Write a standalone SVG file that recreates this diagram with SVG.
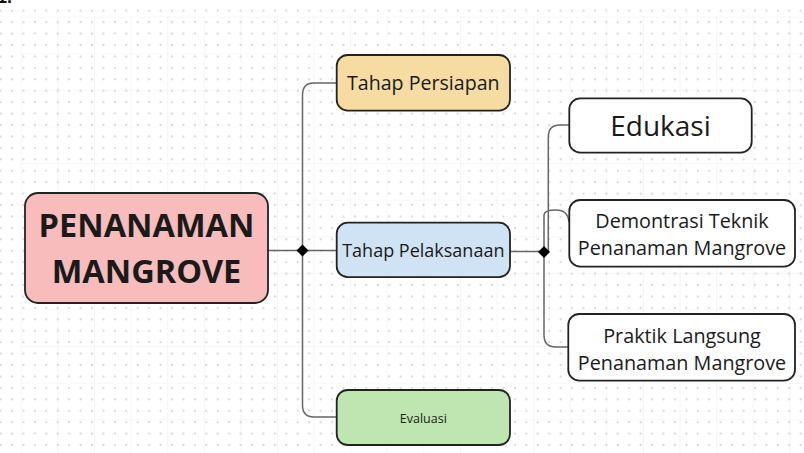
<svg xmlns="http://www.w3.org/2000/svg" width="804" height="453" viewBox="0 0 804 453">
<defs>
<pattern id="dots" x="6.3" y="5" width="11.43" height="11.43" patternUnits="userSpaceOnUse">
<circle cx="5.7" cy="5.7" r="1.15" fill="#d9d9e5"/>
</pattern>
<pattern id="grid" x="20.8" y="16.7" width="36.6" height="36.6" patternUnits="userSpaceOnUse">
<path d="M0,0 V36.6 M0,0 H36.6" fill="none" stroke="#eef1ee" stroke-width="1.2"/>
</pattern>
</defs>
<style>
.box{stroke:#222;stroke-width:1.8}
.t{font-family:"Open Sans","Noto Sans","Liberation Sans",sans-serif;fill:#1a1a1a;text-anchor:middle}
.c{fill:none;stroke:#666;stroke-width:1.5}
</style>
<rect width="804" height="453" fill="#fff"/>
<rect x="20" y="16" width="784" height="437" fill="url(#grid)"/>
<rect x="0" y="5" width="804" height="448" fill="url(#dots)"/>
<text x="-3" y="3" font-family="Liberation Sans, sans-serif" font-weight="bold" font-size="18" fill="#111">1.</text>
<g id="connectors">
<path class="c" d="M268,250.5 H337"/>
<path class="c" d="M336.7,83 H314 Q302.5,83 302.5,95 V405 Q302.5,417 314,417 H336.7"/>
<path class="c" d="M510,251.5 H544"/>
<path class="c" d="M544,252 V215 Q544,210 556,210 Q568,210 569,222"/>
<path class="c" d="M548.3,252 V137 Q548.3,125 560,125 H569.3"/>
<path class="c" d="M544,252 V335 Q544,347 556,347 H568.3"/>
<path d="M302.5,244.5 L308.5,250.5 L302.5,256.5 L296.5,250.5 Z" fill="#000"/>
<path d="M544,246 L550,252 L544,258 L538,252 Z" fill="#000"/>
</g>
<g id="root">
<rect class="box" x="25" y="193" width="243" height="110" rx="13" fill="#f8bcbc"/>
<text class="t" x="146.5" y="237" font-size="32.5" font-weight="bold" fill="#000">PENANAMAN</text>
<text class="t" x="146.5" y="283" font-size="32.5" font-weight="bold" fill="#000">MANGROVE</text>
</g>
<g id="persiapan">
<rect class="box" x="336.7" y="55" width="173.3" height="55.7" rx="11" fill="#f6dca2"/>
<text class="t" x="423.3" y="90" font-size="19.6">Tahap Persiapan</text>
</g>
<g id="pelaksanaan">
<rect class="box" x="336.7" y="222.7" width="173.3" height="54.5" rx="11" fill="#d0e3f4"/>
<text class="t" x="423.3" y="256.5" font-size="18">Tahap Pelaksanaan</text>
</g>
<g id="evaluasi">
<rect class="box" x="336.7" y="390" width="173.3" height="55" rx="11" fill="#bfe6b0"/>
<text class="t" x="423.3" y="422.5" font-size="12.5">Evaluasi</text>
</g>
<g id="edukasi">
<rect class="box" x="569.3" y="98.3" width="182.4" height="54.4" rx="11" fill="#fff"/>
<text class="t" x="660.5" y="135.5" font-size="28">Edukasi</text>
</g>
<g id="demontrasi">
<rect class="box" x="569.3" y="200" width="225.7" height="66.7" rx="11" fill="#fff"/>
<text class="t" x="682" y="227.5" font-size="19.8">Demontrasi Teknik</text>
<text class="t" x="682" y="255" font-size="19.8">Penanaman Mangrove</text>
</g>
<g id="praktik">
<rect class="box" x="568.3" y="314" width="226.7" height="66.7" rx="11" fill="#fff"/>
<text class="t" x="682" y="343.3" font-size="19.8">Praktik Langsung</text>
<text class="t" x="682" y="370" font-size="19.8">Penanaman Mangrove</text>
</g>
</svg>
